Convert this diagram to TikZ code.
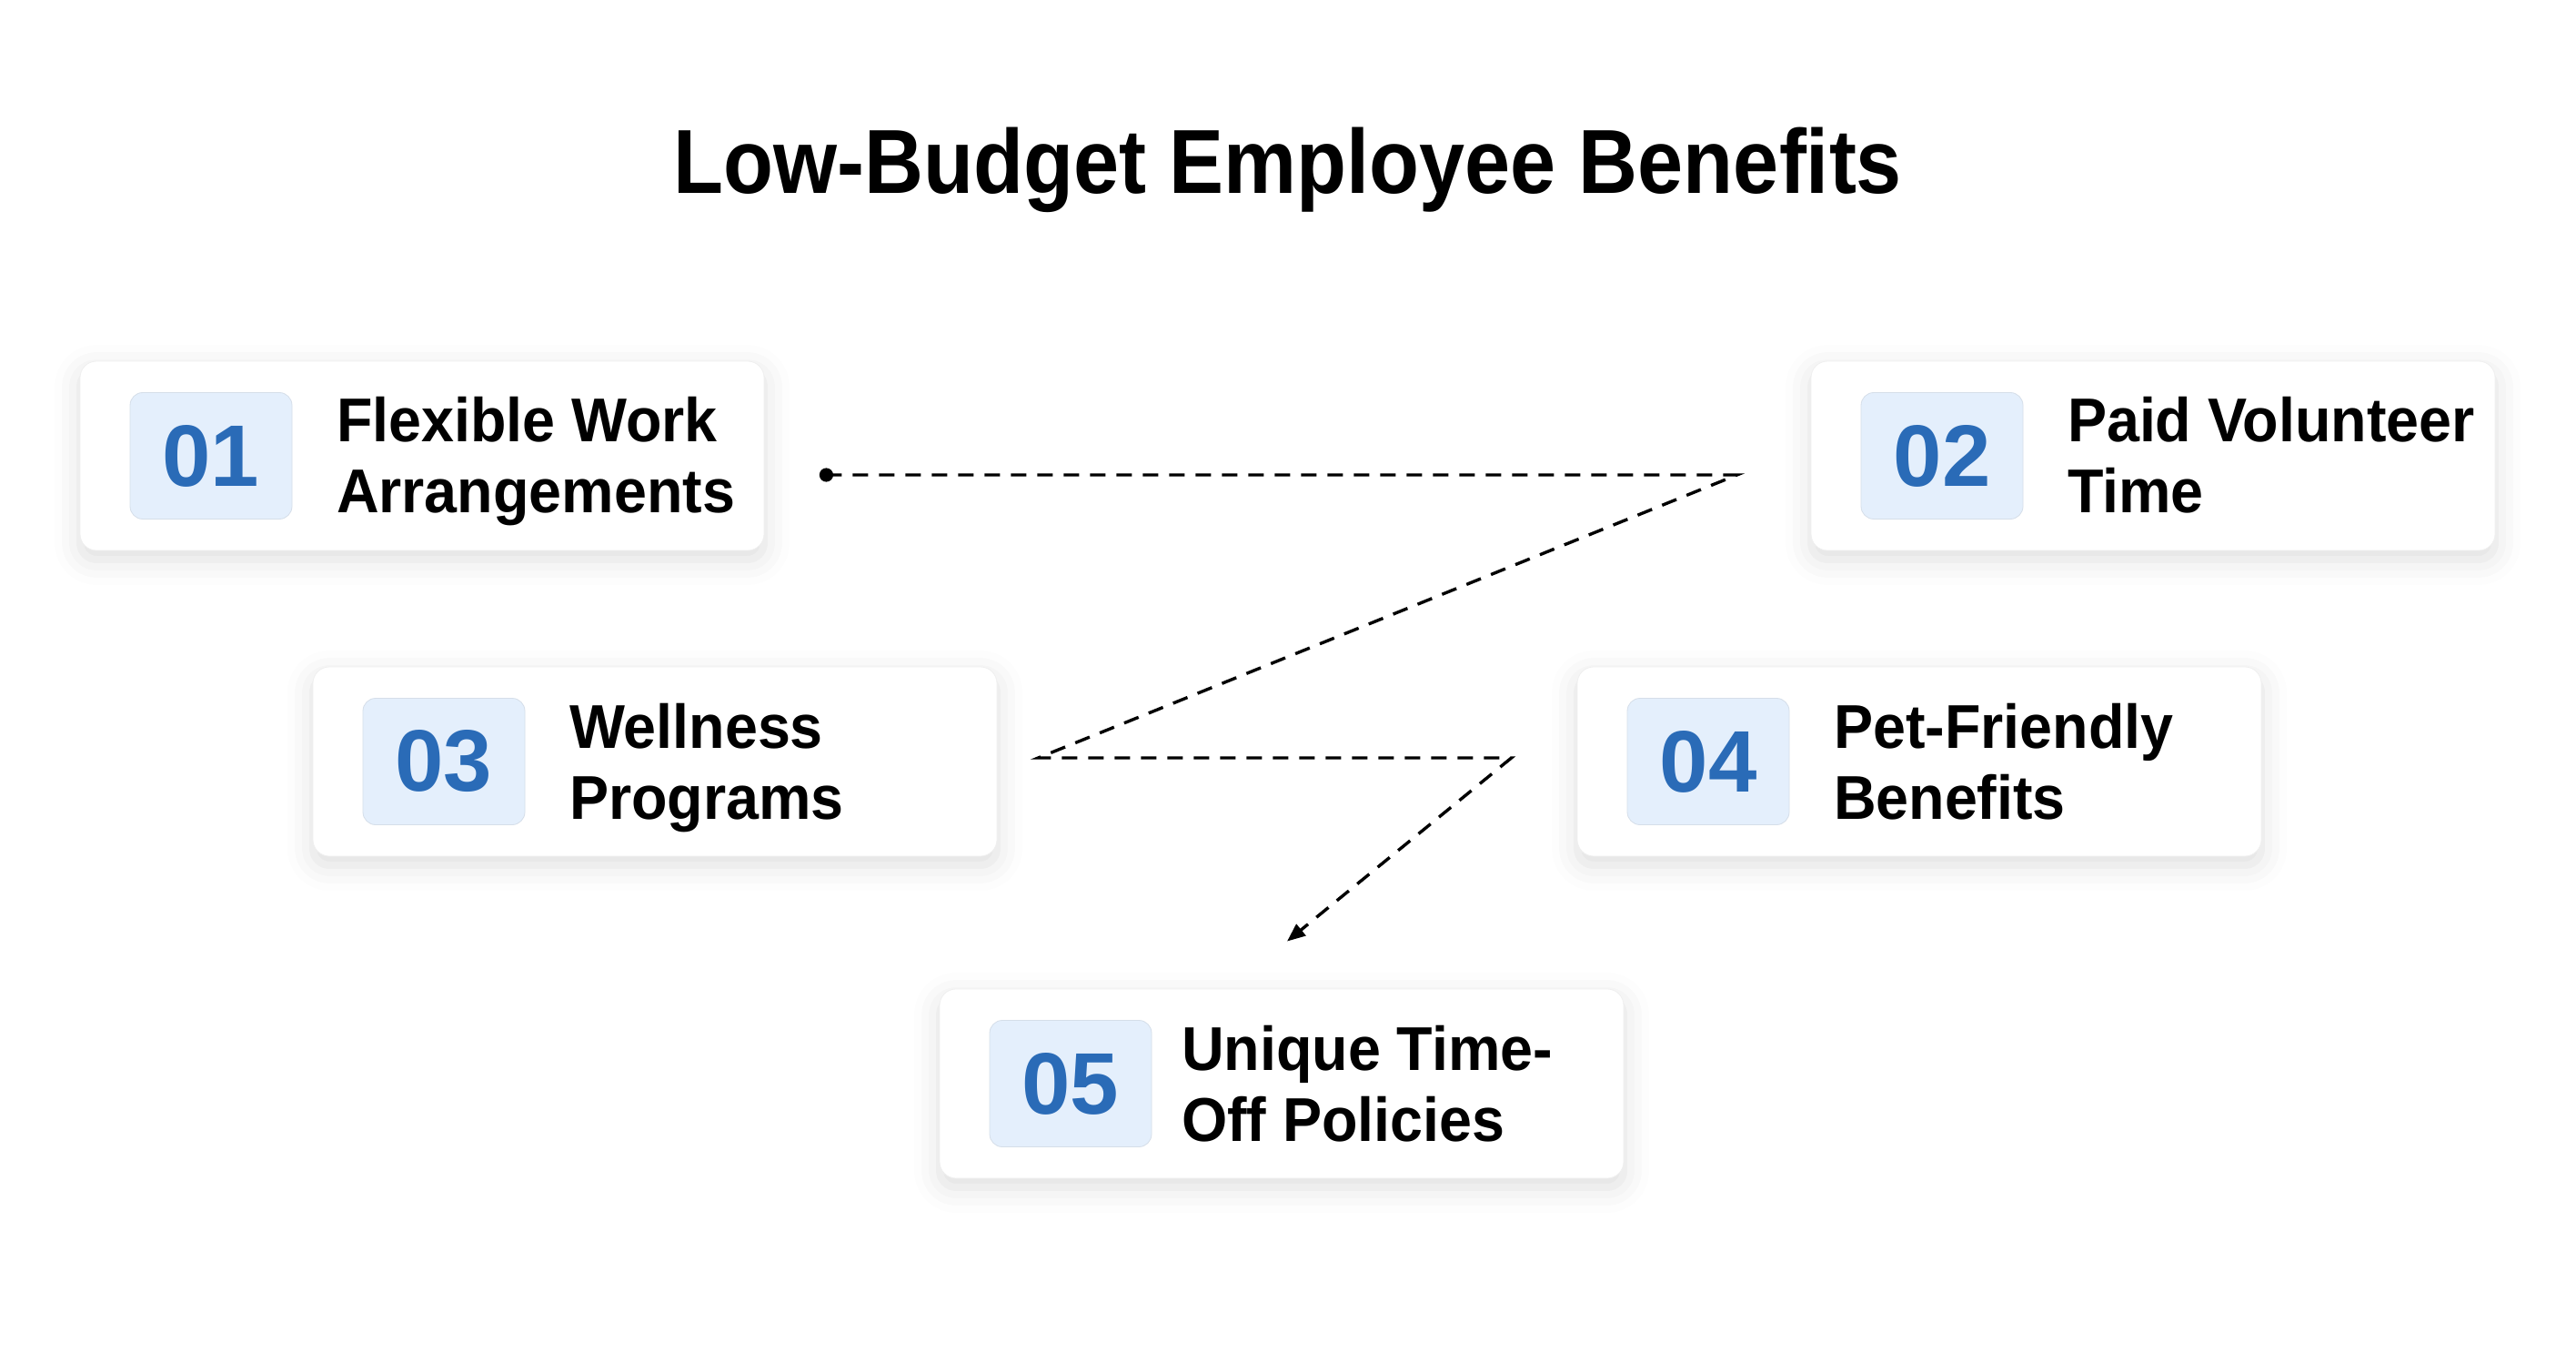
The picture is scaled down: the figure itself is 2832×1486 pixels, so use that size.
\documentclass[tikz,border=0pt]{standalone}
\usepackage{fontspec}
\setmainfont{Liberation Sans}
\newfontfamily\headfont{Liberation Sans}[FakeStretch=0.9]
\newfontfamily\labelfont{Liberation Sans}[FakeStretch=0.95]
\usetikzlibrary{positioning,arrows.meta,shadows.blur}
\definecolor{badgeblue}{HTML}{E4EFFC}
\definecolor{numblue}{HTML}{2A6BB7}
\definecolor{cardline}{HTML}{EFEFEF}
\tikzset{
	card/.style={rectangle, rounded corners=9pt, draw=cardline, fill=white,
		minimum width=376pt, minimum height=104pt,
		blur shadow={shadow xshift=0pt, shadow yshift=-5pt, shadow blur radius=14pt, shadow opacity=13}},
	badge/.style={rectangle, rounded corners=7pt, fill=badgeblue, draw=badgeblue!85!gray,
		minimum width=89pt, minimum height=69.5pt, inner sep=0pt, anchor=west,
		text=numblue, font=\bfseries\fontsize{48}{48}\selectfont},
	label/.style={anchor=base west, inner sep=0pt,
		font=\labelfont\bfseries\fontsize{34}{39}\selectfont},
	flow/.style={dash pattern=on 8.5pt off 6pt, line width=1.7pt}
}
\begin{document}
\begin{tikzpicture}[x=0.5pt, y=-0.5pt]
	\useasboundingbox (0,0) rectangle (2832,1486);
	\node (title) at (1416,213) [anchor=base, font=\headfont\bfseries\fontsize{50}{60}\selectfont] {Low-Budget Employee Benefits};
	% cards
	\node (b1) at (464,501)		[card] {};
	\node (b2) at (2367,501)	[card] {};
	\node (b3) at (720,837)		[card] {};
	\node (b4) at (2110,837)	[card] {};
	\node (b5) at (1409,1191)	[card] {};
	\foreach \b/\n/\dx/\ta/\tb in {b1/01/141/Flexible Work/Arrangements, b2/02/141/Paid Volunteer/Time,
		b3/03/141/Wellness/Programs, b4/04/141/Pet-Friendly/Benefits, b5/05/133/Unique Time-/Off Policies}{
		\node (\b n) [badge, right=27.5pt of \b.west] {\n};
		\node (\b t) at ([xshift=\dx pt, yshift=7.5pt]\b.west) [label] {\ta};
		\node (\b u) at ([xshift=\dx pt, yshift=-31.5pt]\b.west) [label] {\tb};
	}
	% path
	\coordinate (c1) at ([xshift=34pt, yshift=-10.5pt]b1.east);
	\coordinate (c2) at ([xshift=-40.5pt, yshift=-10.5pt]b2.west);
	\coordinate (c3) at ([xshift=22.5pt, yshift=2pt]b3.east);
	\coordinate (c4) at ([xshift=-36pt, yshift=2pt]b4.west);
	\coordinate (c5) at ([xshift=3pt, yshift=26pt]b5.north);
	\fill (c1) circle (3.8pt);
	\draw[flow, -{Triangle[length=10pt, width=8pt]}] (c1) -- (c2) -- (c3) -- (c4) -- (c5);
\end{tikzpicture}
\end{document}
